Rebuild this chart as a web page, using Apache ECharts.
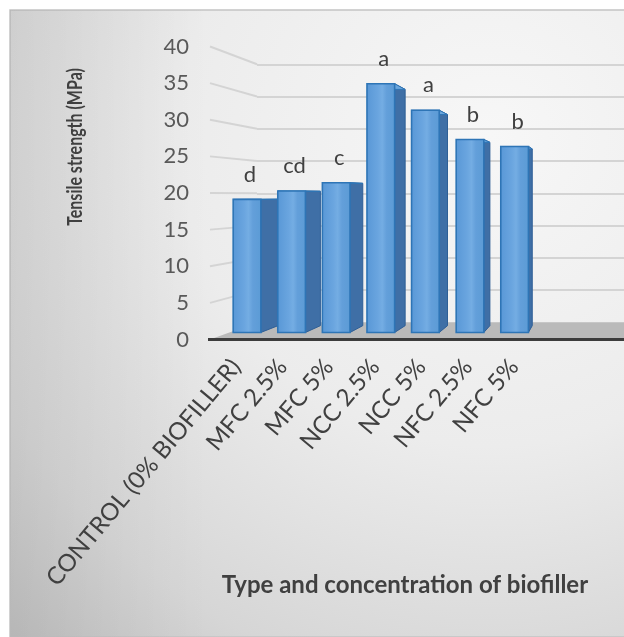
<!DOCTYPE html>
<html>
<head>
<meta charset="utf-8">
<script src="https://cdn.jsdelivr.net/npm/echarts@6/dist/echarts.min.js"></script>
<style>
  html, body { margin: 0; padding: 0; background: #ffffff; }
  #chart { width: 624px; height: 637px; }
</style>
</head>
<body>
<div id="chart"></div>
<script>
// ---- data ----
const categories = ['CONTROL (0% BIOFILLER)', 'MFC 2.5%', 'MFC 5%', 'NCC 2.5%', 'NCC 5%', 'NFC 2.5%', 'NFC 5%'];
const tensileStrength = [19.1, 20.3, 21.5, 35.7, 31.9, 27.7, 26.7];
const groupLetters = ['d', 'cd', 'c', 'a', 'a', 'b', 'b'];
const yTicks = [0, 5, 10, 15, 20, 25, 30, 35, 40];

// ---- pseudo 3D layout ----
// Every depth plane uses the same value scale, pulled toward a vanishing point.
const VP = [605, 196];
const FRONT = { left: 210, top: 46.5, bottom: 339.5 };
const BAR_DEPTH = 0.049;   // plane of the bar front faces
const BACK_DEPTH = 0.119;  // back wall
const BAR_THICK = 0.05;    // how deep each column is
function toward(p, f) {
  return [p[0] + f * (VP[0] - p[0]), p[1] + f * (VP[1] - p[1])];
}
const barTopLeft = toward([FRONT.left, FRONT.top], BAR_DEPTH);
const barBottom = toward([FRONT.left, FRONT.bottom], BAR_DEPTH);
const backTopLeft = toward([FRONT.left, FRONT.top], BACK_DEPTH);
const backBottom = toward([FRONT.left, FRONT.bottom], BACK_DEPTH);

const FONT = 'Lato, "Open Sans", sans-serif';
const chart = echarts.init(document.getElementById('chart'));

const noBounds = { containLabel: false, outerBoundsMode: 'none' };

const option = {
  animation: false,
  grid: [
    // 0: bar plane
    Object.assign({ left: 224.7, width: 312.2, top: barTopLeft[1], height: barBottom[1] - barTopLeft[1] }, noBounds),
    // 1: front plane (value labels, floor edge)
    Object.assign({ left: FRONT.left, width: 430, top: FRONT.top, height: FRONT.bottom - FRONT.top }, noBounds),
    // 2: back wall
    Object.assign({ left: backTopLeft[0], width: 420, top: backTopLeft[1], height: backBottom[1] - backTopLeft[1] }, noBounds),
    // 3: category labels along the floor edge
    Object.assign({ left: 213, width: 324, top: 300, height: FRONT.bottom - 300 }, noBounds)
  ],
  xAxis: [
    { gridIndex: 0, type: 'category', data: categories, show: false },
    { gridIndex: 1, type: 'value', min: 0, max: 1, show: false },
    { gridIndex: 2, type: 'value', min: 0, max: 1, show: false },
    {
      gridIndex: 3, type: 'category', data: categories,
      axisLine: { show: false }, axisTick: { show: false }, splitLine: { show: false },
      axisLabel: { interval: 0, rotate: 50, margin: 23, fontSize: 24, color: '#404040', fontFamily: FONT }
    }
  ],
  yAxis: [
    { gridIndex: 0, type: 'value', min: 0, max: 40, interval: 5, show: false },
    {
      gridIndex: 1, type: 'value', min: 0, max: 40, interval: 5,
      axisLine: { show: false }, axisTick: { show: false }, splitLine: { show: false },
      axisLabel: { margin: 21, fontSize: 22, color: '#595959', fontFamily: FONT }
    },
    {
      gridIndex: 2, type: 'value', min: 0, max: 40, interval: 5,
      axisLine: { show: false }, axisTick: { show: false }, axisLabel: { show: false },
      splitLine: { show: true, lineStyle: { color: '#d4d4d4', width: 2 } }
    },
    { gridIndex: 3, type: 'value', show: false }
  ],
  graphic: [
    {
      type: 'rect', z: -10, silent: true,
      shape: { x: 10, y: 10, width: 640, height: 627 },
      style: {
        fill: {
          type: 'radial', x: 0.75, y: 0.2, r: 1.1,
          colorStops: [
            { offset: 0, color: '#f7f7f7' },
            { offset: 0.45, color: '#ececec' },
            { offset: 0.8, color: '#d6d6d6' },
            { offset: 1, color: '#c2c2c2' }
          ]
        },
        stroke: '#c4c4c4', lineWidth: 1.5
      }
    },
    {
      type: 'rect', z: -9, silent: true,
      shape: { x: 10, y: 10, width: 200, height: 627 },
      style: {
        fill: {
          type: 'linear', x: 0, y: 0, x2: 1, y2: 0,
          colorStops: [
            { offset: 0, color: 'rgba(0,0,0,0.06)' },
            { offset: 1, color: 'rgba(0,0,0,0)' }
          ]
        }
      }
    },
    {
      type: 'text', z: 100, x: 76, y: 147, rotation: Math.PI / 2, scaleX: 0.8,
      style: {
        text: 'Tensile strength (MPa)', fontSize: 20, fontWeight: 'bold', fontFamily: FONT,
        fill: '#404040', align: 'center', verticalAlign: 'middle'
      }
    },
    {
      type: 'text', z: 100, x: 405, y: 585,
      style: {
        text: 'Type and concentration of biofiller', fontSize: 24, fontWeight: 'bold', fontFamily: FONT,
        fill: '#404040', align: 'center', verticalAlign: 'middle'
      }
    }
  ],
  series: [
    {
      // side wall: gridlines running from the front edge to the back wall
      type: 'custom', xAxisIndex: 1, yAxisIndex: 1, z: 1, silent: true,
      data: yTicks.filter(v => v > 0).map(v => [0, v]),
      renderItem: function (params, api) {
        const p = api.coord([0, api.value(1)]);
        const q = toward(p, BACK_DEPTH);
        return {
          type: 'line',
          shape: { x1: p[0], y1: p[1], x2: q[0], y2: q[1] },
          style: { stroke: '#d4d4d4', lineWidth: 2 }
        };
      }
    },
    {
      // floor
      type: 'custom', xAxisIndex: 1, yAxisIndex: 1, z: 1, silent: true,
      data: [[0, 0]],
      renderItem: function (params, api) {
        const fl = api.coord([0, 0]);
        const right = params.coordSys.x + params.coordSys.width;
        const bl = toward(fl, BACK_DEPTH);
        return {
          type: 'group',
          children: [
            {
              type: 'polygon',
              shape: { points: [fl, [right, fl[1]], [right, bl[1]], bl] },
              style: { fill: '#bababa' }
            },
            {
              type: 'line',
              shape: { x1: fl[0] - 2, y1: fl[1], x2: right, y2: fl[1] },
              style: { stroke: '#3c3c3c', lineWidth: 3 }
            }
          ]
        };
      }
    },
    {
      // columns
      type: 'custom', xAxisIndex: 0, yAxisIndex: 0, z: 3, silent: true,
      data: tensileStrength.map((v, i) => [i, v]),
      renderItem: function (params, api) {
        const i = api.value(0);
        const top = api.coord([i, api.value(1)]);
        const base = api.coord([i, 0]);
        const w = api.size([1, 0])[0] * 0.62;
        const xl = top[0] - w / 2, xr = top[0] + w / 2;
        const sTop = toward([xr, top[1]], BAR_THICK);
        const sBot = toward([xr, base[1]], BAR_THICK);
        const tLeft = toward([xl, top[1]], BAR_THICK);
        return {
          type: 'group',
          children: [
            {
              type: 'polygon',
              shape: { points: [[xr, top[1]], sTop, sBot, [xr, base[1]]] },
              style: { fill: '#3f6fa6', stroke: '#2f5f96', lineWidth: 1 }
            },
            {
              type: 'polygon',
              shape: { points: [[xl, top[1]], [xr, top[1]], sTop, tLeft] },
              style: { fill: '#6aa6dd', stroke: '#2e75b6', lineWidth: 1 }
            },
            {
              type: 'rect',
              shape: { x: xl, y: top[1], width: w, height: base[1] - top[1] },
              style: {
                fill: {
                  type: 'linear', x: 0, y: 0, x2: 1, y2: 0,
                  colorStops: [
                    { offset: 0, color: '#5897d6' },
                    { offset: 0.4, color: '#6aa5df' },
                    { offset: 0.55, color: '#74ade3' },
                    { offset: 0.7, color: '#639fda' },
                    { offset: 1, color: '#5b9bd5' }
                  ]
                },
                stroke: '#2e75b6', lineWidth: 1.6
              }
            },
            {
              type: 'text',
              x: top[0] + 3, y: top[1] - 25,
              style: {
                text: groupLetters[i], fontSize: 22, fontFamily: FONT, fill: '#404040',
                align: 'center', verticalAlign: 'middle'
              }
            }
          ]
        };
      }
    }
  ]
};
chart.setOption(option);
</script>
</body>
</html>
